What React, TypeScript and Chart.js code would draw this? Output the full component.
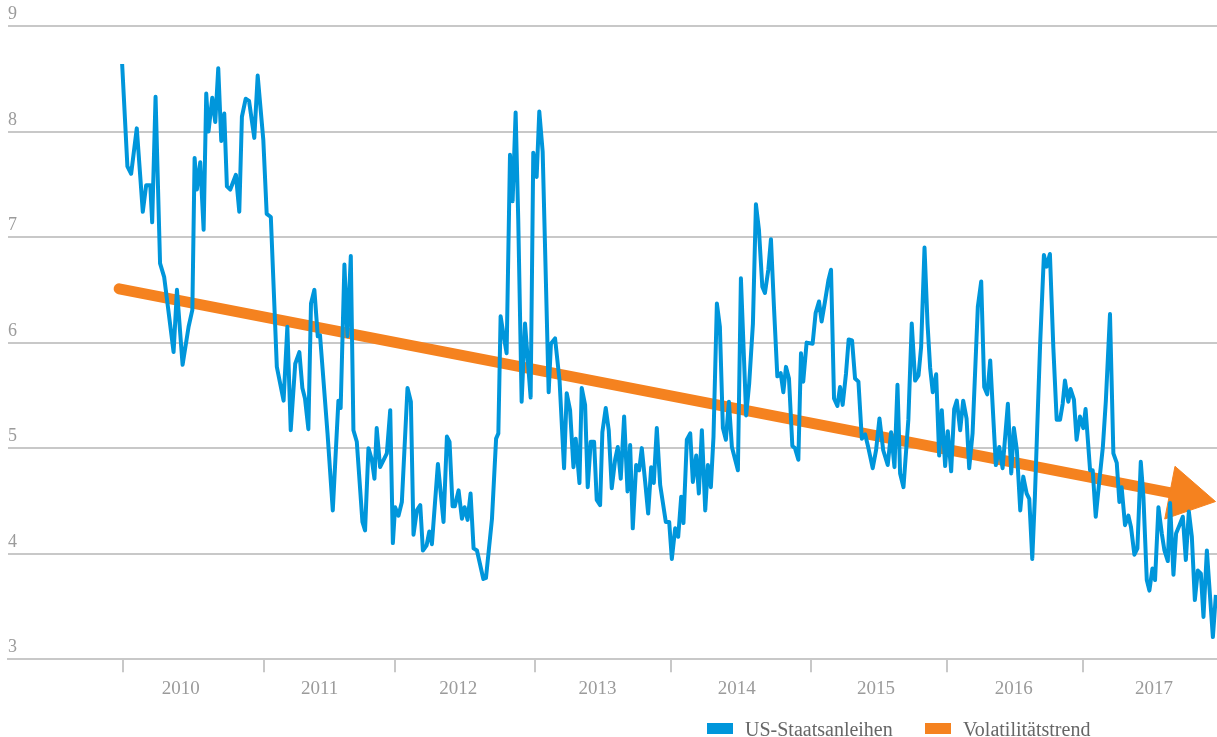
import React, { useEffect, useRef } from 'react';
import { Chart, registerables } from 'chart.js';

Chart.register(...registerables);

// Days since start of the weekly series (first observation = day 0)
const dayOffsets = [
  0, 14, 24, 39, 55, 64, 75, 80, 89, 101, 112, 123, 137, 146, 161, 177, 187, 193, 199, 208,
  217, 224, 230, 240, 248, 256, 264, 272, 279, 288, 303, 312, 319, 329, 338, 352, 361, 376, 385, 396,
  412, 430, 440, 449, 461, 472, 480, 487, 496, 503, 512, 521, 527, 547, 561, 576, 582, 592, 600, 609,
  616, 625, 640, 647, 656, 665, 672, 678, 687, 705, 714, 721, 727, 736, 745, 760, 769, 776, 785, 794,
  801, 811, 818, 825, 841, 856, 865, 872, 880, 886, 896, 905, 912, 920, 928, 936, 945, 962, 969, 985,
  996, 1002, 1008, 1015, 1024, 1033, 1040, 1048, 1055, 1064, 1073, 1088, 1095, 1104, 1111, 1120, 1136, 1142, 1153, 1165,
  1177, 1184, 1193, 1202, 1208, 1218, 1224, 1233, 1240, 1248, 1257, 1264, 1273, 1279, 1288, 1296, 1304, 1313, 1320, 1328,
  1337, 1346, 1353, 1360, 1369, 1377, 1384, 1393, 1401, 1409, 1416, 1424, 1433, 1448, 1457, 1464, 1473, 1481, 1489, 1495,
  1504, 1513, 1520, 1529, 1536, 1544, 1553, 1560, 1568, 1575, 1584, 1592, 1600, 1608, 1616, 1624, 1640, 1648, 1662, 1670,
  1680, 1688, 1696, 1705, 1712, 1721, 1728, 1736, 1745, 1754, 1761, 1768, 1776, 1785, 1792, 1801, 1808, 1814, 1823, 1839,
  1847, 1856, 1863, 1872, 1881, 1888, 1896, 1905, 1912, 1919, 1928, 1935, 1944, 1952, 1961, 1970, 1979, 1987, 1999, 2008,
  2017, 2027, 2039, 2048, 2057, 2065, 2072, 2081, 2094, 2103, 2112, 2121, 2128, 2137, 2145, 2152, 2159, 2168, 2176, 2183,
  2192, 2199, 2208, 2216, 2223, 2232, 2240, 2249, 2256, 2265, 2279, 2288, 2296, 2304, 2312, 2327, 2336, 2345, 2359, 2368,
  2375, 2383, 2392, 2400, 2409, 2416, 2424, 2431, 2437, 2445, 2455, 2462, 2471, 2480, 2489, 2498, 2505, 2511, 2520, 2526,
  2535, 2542, 2551, 2560, 2566, 2578, 2585, 2593, 2602, 2612, 2620, 2631, 2640, 2649, 2656, 2662, 2671, 2680, 2687, 2696,
  2704, 2713, 2720, 2729, 2736, 2744, 2751, 2760, 2769, 2776, 2785, 2791, 2800, 2807, 2816, 2825, 2833, 2841, 2849, 2857,
  2865, 2873, 2880, 2889, 2897, 2905, 2913,
];

// US-Staatsanleihen (volatility)
const bondVolatility = [
  8.64, 7.67, 7.60, 8.03, 7.24, 7.49, 7.49, 7.14, 8.33, 6.75, 6.62, 6.31, 5.91, 6.50, 5.79, 6.15, 6.31, 7.75, 7.45, 7.71,
  7.07, 8.36, 8.00, 8.32, 8.09, 8.60, 7.91, 8.17, 7.48, 7.45, 7.59, 7.24, 8.14, 8.31, 8.29, 7.94, 8.53, 7.92, 7.22, 7.19,
  5.77, 5.45, 6.15, 5.17, 5.80, 5.91, 5.57, 5.47, 5.18, 6.37, 6.50, 6.06, 6.07, 5.14, 4.41, 5.45, 5.38, 6.74, 6.06, 6.82,
  5.17, 5.06, 4.30, 4.22, 5.00, 4.89, 4.71, 5.19, 4.82, 4.95, 5.36, 4.10, 4.44, 4.36, 4.49, 5.57, 5.44, 4.18, 4.41, 4.46,
  4.03, 4.08, 4.21, 4.09, 4.85, 4.30, 5.11, 5.06, 4.45, 4.45, 4.60, 4.33, 4.44, 4.32, 4.57, 4.05, 4.03, 3.76, 3.77, 4.33,
  5.09, 5.14, 6.25, 6.09, 5.90, 7.78, 7.34, 8.18, 7.16, 5.44, 6.18, 5.48, 7.80, 7.57, 8.19, 7.81, 5.53, 5.99, 6.04, 5.64,
  4.81, 5.52, 5.36, 4.82, 5.09, 4.67, 5.57, 5.41, 4.63, 5.06, 5.06, 4.51, 4.46, 5.15, 5.38, 5.17, 4.62, 4.89, 5.01, 4.71,
  5.30, 4.59, 5.03, 4.24, 4.84, 4.79, 5.00, 4.68, 4.38, 4.82, 4.67, 5.19, 4.65, 4.30, 4.30, 3.95, 4.24, 4.16, 4.54, 4.29,
  5.08, 5.14, 4.68, 4.93, 4.57, 5.17, 4.41, 4.84, 4.63, 5.11, 6.37, 6.15, 5.19, 5.08, 5.44, 5.01, 4.79, 6.61, 5.31, 5.61,
  6.18, 7.31, 7.07, 6.53, 6.47, 6.69, 6.98, 6.34, 5.68, 5.71, 5.53, 5.77, 5.66, 5.02, 5.00, 4.89, 5.90, 5.63, 6.00, 5.99,
  6.28, 6.39, 6.20, 6.39, 6.59, 6.69, 5.47, 5.40, 5.58, 5.41, 5.71, 6.03, 6.02, 5.66, 5.63, 5.09, 5.13, 5.01, 4.81, 4.98,
  5.28, 4.98, 4.84, 5.15, 4.82, 5.60, 4.76, 4.63, 5.27, 6.18, 5.64, 5.69, 5.96, 6.90, 6.18, 5.76, 5.53, 5.70, 4.93, 5.36,
  4.83, 5.16, 4.78, 5.37, 5.45, 5.17, 5.45, 5.28, 4.81, 5.14, 6.34, 6.58, 5.58, 5.51, 5.83, 4.84, 5.01, 4.81, 5.42, 4.76,
  5.19, 4.98, 4.41, 4.73, 4.57, 4.52, 3.95, 4.54, 5.17, 5.99, 6.83, 6.72, 6.84, 5.96, 5.27, 5.27, 5.42, 5.64, 5.44, 5.56,
  5.46, 5.08, 5.30, 5.19, 5.37, 4.79, 4.79, 4.35, 4.67, 5.01, 5.45, 6.27, 4.95, 4.86, 4.49, 4.63, 4.27, 4.36, 4.25, 3.99,
  4.05, 4.87, 4.54, 3.75, 3.65, 3.86, 3.75, 4.44, 4.19, 4.03, 3.93, 4.48, 3.80, 4.19, 4.27, 4.35, 3.94, 4.40, 4.16, 3.56,
  3.84, 3.81, 3.40, 4.03, 3.62, 3.21, 3.61,
];

// Volatilitätstrend (arrow start and arrow head)
const trendDays = [-8, 2831];
const trendValues = [6.51, 4.55];

// x-axis: year tick marks and year label positions (days)
const yearTickDays = [3, 377, 726, 1100, 1462, 1836, 2198, 2560];
const yearLabelDays = [156, 526, 895, 1266, 1637, 2008, 2375, 2748];
const yearLabels = ['2010', '2011', '2012', '2013', '2014', '2015', '2016', '2017'];

const BLUE = '#0096db';
const ORANGE = '#f5821f';
const GRID = '#c8c8c8';
const AXIS_TEXT = '#9b9b9b';
const LEGEND_TEXT = '#666666';
const FONT = '"Liberation Serif", "Times New Roman", serif';

export default function App() {
  const canvasRef = useRef<HTMLCanvasElement>(null);

  useEffect(() => {
    const canvas = canvasRef.current;
    if (!canvas) return;
    const tickSet = new Set(yearTickDays);
    const labelMap = new Map<number, string>(yearLabelDays.map((d, i) => [d, yearLabels[i]]));
    const allTicks = [...yearTickDays, ...yearLabelDays].sort((a, b) => a - b);

    const chart = new Chart(canvas, {
      type: 'line',
      data: {
        datasets: [
          {
            label: 'US-Staatsanleihen',
            data: dayOffsets.map((d, i) => ({ x: d, y: bondVolatility[i] })),
            borderColor: BLUE,
            backgroundColor: BLUE,
            borderWidth: 4,
            borderJoinStyle: 'round',
            pointRadius: 0,
            pointHoverRadius: 0,
            tension: 0,
            order: 0,
          },
          {
            label: 'Volatilitätstrend',
            data: trendDays.map((d, i) => ({ x: d, y: trendValues[i] })),
            borderColor: ORANGE,
            backgroundColor: ORANGE,
            borderWidth: 11,
            borderCapStyle: 'round',
            pointStyle: 'triangle',
            pointRadius: [0, 31],
            pointHoverRadius: [0, 31],
            pointRotation: [0, 101],
            pointBackgroundColor: ORANGE,
            pointBorderColor: ORANGE,
            pointBorderWidth: 1,
            tension: 0,
            clip: false,
            order: 1,
          },
        ],
      },
      options: {
        responsive: false,
        animation: false,
        devicePixelRatio: 1,
        layout: { autoPadding: false, padding: { top: 26, left: 8, right: 0, bottom: 32 } },
        plugins: {
          legend: { display: false },
          tooltip: { enabled: false },
        },
        scales: {
          x: {
            type: 'linear',
            min: -304,
            max: 2916,
            afterBuildTicks: (scale: any) => {
              scale.ticks = allTicks.map((v) => ({ value: v }));
            },
            grid: {
              drawOnChartArea: false,
              drawTicks: true,
              tickLength: 13,
              lineWidth: 2,
              color: (c: any) => (c.tick && tickSet.has(c.tick.value) ? GRID : 'rgba(0,0,0,0)'),
            },
            border: { display: true, color: GRID, width: 2 },
            ticks: {
              autoSkip: false,
              maxRotation: 0,
              minRotation: 0,
              padding: 5,
              color: AXIS_TEXT,
              font: { family: FONT, size: 19 },
              callback: (v: any) => labelMap.get(Number(v)) ?? '',
            },
          },
          y: {
            type: 'linear',
            min: 3,
            max: 9,
            ticks: {
              stepSize: 1,
              mirror: true,
              padding: 0,
              labelOffset: -11.5,
              color: AXIS_TEXT,
              font: { family: FONT, size: 18 },
            },
            grid: { color: GRID, lineWidth: 2, drawTicks: false },
            border: { display: false },
          },
        },
      },
    } as any);

    return () => chart.destroy();
  }, []);

  const legendText: React.CSSProperties = {
    position: 'absolute',
    fontFamily: FONT,
    fontSize: 20,
    lineHeight: '20px',
    color: LEGEND_TEXT,
    whiteSpace: 'nowrap',
    top: 719,
  };

  return (
    <div style={{ position: 'fixed', left: 0, top: 0, width: 1217, height: 737, background: '#fff' }}>
      <canvas ref={canvasRef} width={1217} height={737} style={{ display: 'block', width: 1217, height: 737 }} />
      <div style={{ position: 'absolute', left: 707, top: 723, width: 26, height: 11, background: BLUE }} />
      <span style={{ ...legendText, left: 745 }}>US-Staatsanleihen</span>
      <div style={{ position: 'absolute', left: 925, top: 723, width: 26, height: 11, background: ORANGE }} />
      <span style={{ ...legendText, left: 963 }}>Volatilitätstrend</span>
    </div>
  );
}
